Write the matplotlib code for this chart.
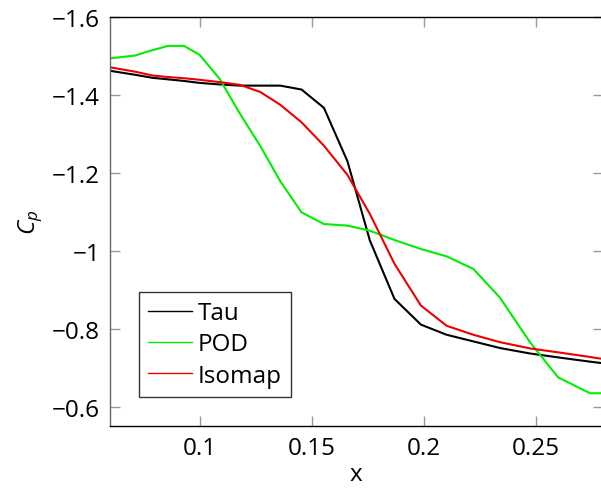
import matplotlib
matplotlib.use("Agg")
import matplotlib.pyplot as plt
from matplotlib.lines import Line2D

plt.rcParams['font.family'] = ['Open Sans', 'DejaVu Sans']
plt.rcParams['mathtext.fontset'] = 'custom'
plt.rcParams['mathtext.it'] = 'Open Sans:italic'
plt.rcParams['mathtext.rm'] = 'Open Sans'

x = [0.060, 0.071, 0.079, 0.086, 0.093, 0.100, 0.109, 0.118, 0.127, 0.136,
     0.1455, 0.1555, 0.166, 0.176, 0.187, 0.1988, 0.2103, 0.2222, 0.2341,
     0.2475, 0.260, 0.2743, 0.280]

tau = [-1.462, -1.452, -1.444, -1.440, -1.436, -1.431, -1.427, -1.424, -1.424, -1.424,
       -1.414, -1.367, -1.230, -1.027, -0.877, -0.811, -0.785, -0.768, -0.751,
       -0.737, -0.727, -0.716, -0.712]

pod = [-1.494, -1.501, -1.515, -1.526, -1.526, -1.503, -1.441, -1.352, -1.270, -1.179,
       -1.099, -1.069, -1.065, -1.052, -1.028, -1.005, -0.986, -0.954, -0.880,
       -0.766, -0.676, -0.635, -0.635]

isomap = [-1.471, -1.460, -1.450, -1.446, -1.443, -1.439, -1.433, -1.426, -1.408, -1.375,
          -1.330, -1.270, -1.195, -1.095, -0.967, -0.860, -0.808, -0.785, -0.766,
          -0.750, -0.740, -0.728, -0.723]

xticks = [0.1, 0.15, 0.2, 0.25]
xticklabels = ['0.1', '0.15', '0.2', '0.25']
yticks = [-1.6, -1.4, -1.2, -1.0, -0.8, -0.6]
yticklabels = ['\u22121.6', '\u22121.4', '\u22121.2', '\u22121', '\u22120.8', '\u22120.6']

fs = 17.5
fig = plt.figure(figsize=(6.01, 4.89), dpi=100)
ax = fig.add_axes([110 / 601, 1 - 427 / 489, 492.8 / 601, 409 / 489])

lw = 1.5
ax.plot(x, tau, color='black', lw=lw)
ax.plot(x, pod, color='#00ee00', lw=lw)
ax.plot(x, isomap, color='#ee0000', lw=lw)

ax.set_xlim(0.06, 0.28)
ax.set_ylim(-0.551, -1.6)

ax.set_xticks(xticks)
ax.set_xticklabels(xticklabels)
ax.set_yticks(yticks)
ax.set_yticklabels(yticklabels)
ax.tick_params(direction='in', length=7, width=1, color='#999999',
               top=True, right=True, labelsize=fs, pad=7)
ax.tick_params(axis='x', pad=7.5)

for s in ['top', 'bottom']:
    ax.spines[s].set_color('black')
ax.spines['left'].set_color('#666666')
ax.spines['right'].set_color('#666666')
for s in ax.spines.values():
    s.set_linewidth(1)

ax.set_xlabel('x', fontsize=fs, labelpad=1.5)
ax.set_ylabel('$C_p$', fontsize=fs, labelpad=5)

handles = [Line2D([], [], color='black', lw=1),
           Line2D([], [], color='#00ee00', lw=1),
           Line2D([], [], color='#ee0000', lw=1)]
leg = ax.legend(handles, ['Tau', 'POD', 'Isomap'], loc='lower left',
                bbox_to_anchor=(29 / 492.8, 29 / 409), fontsize=fs,
                fancybox=False, framealpha=1, edgecolor='#333333',
                handlelength=1.8, handletextpad=0.25, labelspacing=0.3,
                borderpad=0.38, borderaxespad=0)
leg.get_frame().set_linewidth(1)

fig.savefig('out.png', dpi=100)
